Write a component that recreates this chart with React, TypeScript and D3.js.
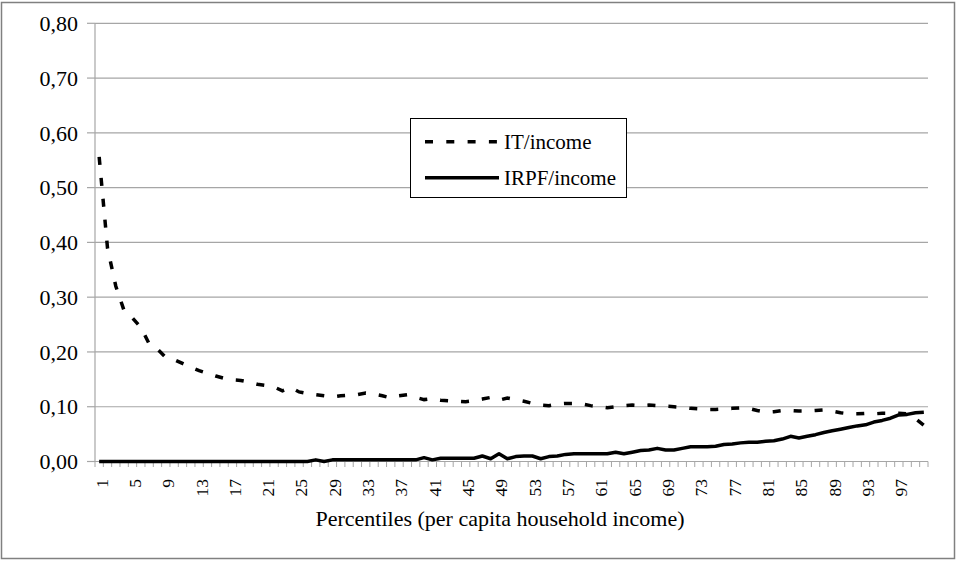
import React from "react";
import * as d3 from "d3";

const percentiles: number[] = d3.range(1, 101);
const tickLabelEvery = 4;
const yTicks: number[] = [0, 0.1, 0.2, 0.3, 0.4, 0.5, 0.6, 0.7, 0.8];

const itIncome: number[] = [
  0.556, 0.39, 0.32, 0.275, 0.262, 0.245, 0.215, 0.205, 0.19, 0.186,
  0.179, 0.172, 0.166, 0.161, 0.156, 0.152, 0.149, 0.148, 0.145, 0.141,
  0.139, 0.136, 0.129, 0.135, 0.127, 0.124, 0.122, 0.12, 0.118, 0.12,
  0.121, 0.122, 0.125, 0.123, 0.12, 0.116, 0.12, 0.122, 0.117, 0.113,
  0.115, 0.112, 0.111, 0.11, 0.109, 0.111, 0.114, 0.117, 0.112, 0.116,
  0.113, 0.11, 0.106, 0.103, 0.102, 0.105, 0.106, 0.106, 0.105, 0.102,
  0.1, 0.098, 0.1, 0.102, 0.103, 0.102, 0.103, 0.102, 0.101, 0.1,
  0.099, 0.097, 0.096, 0.095, 0.095, 0.096, 0.097, 0.098, 0.097, 0.093,
  0.09, 0.091, 0.093, 0.093, 0.092, 0.092, 0.093, 0.094, 0.092, 0.089,
  0.087, 0.087, 0.088, 0.087, 0.088, 0.088, 0.088, 0.087, 0.078, 0.066,
];

const irpfIncome: number[] = [
  0, 0, 0, 0, 0, 0, 0, 0, 0, 0,
  0, 0, 0, 0, 0, 0, 0, 0, 0, 0,
  0, 0, 0, 0, 0, 0, 0.003, 0, 0.003, 0.003,
  0.003, 0.003, 0.003, 0.003, 0.003, 0.003, 0.003, 0.003, 0.003, 0.007,
  0.003, 0.006, 0.006, 0.006, 0.006, 0.006, 0.01, 0.005, 0.014, 0.005,
  0.009, 0.01, 0.01, 0.005, 0.009, 0.01, 0.013, 0.014, 0.014, 0.014,
  0.014, 0.014, 0.017, 0.014, 0.017, 0.02, 0.021, 0.024, 0.021, 0.021,
  0.024, 0.027, 0.027, 0.027, 0.028, 0.031, 0.032, 0.034, 0.035, 0.035,
  0.037, 0.038, 0.041, 0.046, 0.043, 0.046, 0.049, 0.053, 0.056, 0.059,
  0.062, 0.065, 0.067, 0.072, 0.075, 0.079, 0.085, 0.086, 0.089, 0.09,
];

const seriesNames = ["IT/income", "IRPF/income"];
const xTitle = "Percentiles (per capita household income)";

const W = 957;
const H = 561;
const left = 95;
const right = 928;
const top = 23.3;
const bottom = 461.5;
const FONT = `"Liberation Serif", "Times New Roman", serif`;
const DASH = "8 13";

const ts = (size: number) => ({ fontFamily: FONT, fontSize: `${size}px` });

export default function App() {
  const x = d3.scaleBand<number>().domain(percentiles).range([left, right]).padding(0);
  const y = d3.scaleLinear().domain([0, 0.8]).range([bottom, top]);
  const bw = x.bandwidth();
  const cx = (c: number) => (x(c) as number) + bw / 2;

  const line = d3
    .line<number>()
    .x((_, i) => cx(percentiles[i]))
    .y((v) => y(v));

  const fmt = (v: number) => d3.format(".2f")(v).replace(".", ",");
  const boundaries = d3.range(0, percentiles.length + 1).map((i) => left + i * bw);

  return (
    <div style={{ position: "absolute", left: 0, top: 0 }}>
      <svg width={W} height={H} style={{ display: "block", background: "#fff" }}>
        <rect x={1.5} y={2.5} width={953} height={556} fill="#fff" stroke="#808080" strokeWidth={1.5} />
        {yTicks.map((t) => (
          <line key={"g" + t} x1={left} x2={right} y1={y(t)} y2={y(t)} stroke="#a6a6a6" strokeWidth={1.2} />
        ))}
        <line x1={left} x2={left} y1={top} y2={bottom} stroke="#a6a6a6" strokeWidth={1.2} />
        {yTicks.map((t) => (
          <g key={"yt" + t}>
            <line x1={left - 8} x2={left} y1={y(t)} y2={y(t)} stroke="#a6a6a6" strokeWidth={1.2} />
            <text x={78} y={y(t)} dy="0.35em" textAnchor="end" style={ts(22)} fill="#000">
              {fmt(t)}
            </text>
          </g>
        ))}
        <line x1={left} x2={right} y1={bottom} y2={bottom} stroke="#a6a6a6" strokeWidth={1.2} />
        {boundaries.map((bx, i) => (
          <line key={"xt" + i} x1={bx} x2={bx} y1={bottom} y2={bottom + 5.5} stroke="#a6a6a6" strokeWidth={1} />
        ))}
        {percentiles
          .filter((_, i) => i % tickLabelEvery === 0)
          .map((c) => (
            <text
              key={"xl" + c}
              transform={`translate(${cx(c)},479) rotate(-90)`}
              dy="0.48em"
              textAnchor="end"
              style={ts(17.5)}
              fill="#000"
            >
              {c}
            </text>
          ))}
        <text x={500} y={518} dy="0.35em" textAnchor="middle" style={ts(22)} fill="#000">
          {xTitle}
        </text>
        <path d={line(irpfIncome) || ""} fill="none" stroke="#000" strokeWidth={3.5} strokeLinejoin="round" />
        <path d={line(itIncome) || ""} fill="none" stroke="#000" strokeWidth={3.5} strokeDasharray={DASH} />
        <rect x={410.5} y={118.5} width={216} height={79} fill="#fff" stroke="#000" strokeWidth={1} />
        <line x1={425} x2={499} y1={141.7} y2={141.7} stroke="#000" strokeWidth={3.5} strokeDasharray="8 13.3" />
        <text x={504} y={141.7} dy="0.35em" style={ts(21)} fill="#000">
          {seriesNames[0]}
        </text>
        <line x1={425} x2={499} y1={177.7} y2={177.7} stroke="#000" strokeWidth={3.5} />
        <text x={504} y={177.7} dy="0.35em" style={ts(21)} fill="#000">
          {seriesNames[1]}
        </text>
      </svg>
    </div>
  );
}
